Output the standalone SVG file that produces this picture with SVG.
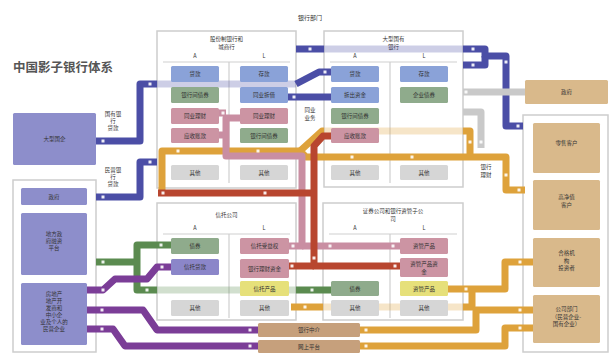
<svg xmlns="http://www.w3.org/2000/svg" width="611" height="353" viewBox="0 0 611 353">
<style>
text{font-family:"Noto Sans CJK SC","Noto Sans",sans-serif;font-size:5.5px;fill:#333;text-anchor:middle}
.ttl{font-size:12.5px;font-weight:bold;fill:#555;text-anchor:start}
.frame{fill:#fff;stroke:#cdcdcd;stroke-width:1.5}
.sep{stroke:#cfcfcf;stroke-width:1.2;fill:none}
.b{rx:1.5}
.bl{fill:#8aa2d8}.gr{fill:#8fab8c}.pk{fill:#cc94a3}.ye{fill:#e6e07a}.pu{fill:#8b86c9}.gy{fill:#d6d6d6}
.lp{fill:#8d8ecb}.tn{fill:#d9b98b}.tb{fill:#c6a07c}
.ln{fill:none;stroke-width:7;stroke-linejoin:round}
.fd{opacity:0.28}
.cb{stroke:#4b4ea6}.cy{stroke:#dea23b}.cp{stroke:#c98ea2}.cr{stroke:#b8462f}.cg{stroke:#5b8b50}.cu{stroke:#7b3d97}.cx{stroke:#c9c9c9}
.d{fill:#fff;opacity:0.9}
</style>

<text class="ttl" x="13" y="72">中国影子银行体系</text>
<text x="310" y="20" style="font-size:6px">银行部门</text>

<!-- container frames -->
<g id="c1">
<rect class="frame" x="157" y="31" width="139" height="157"/>
<text x="226.5" y="41">股份制银行和</text><text x="226.5" y="48.5">城商行</text>
<text x="195" y="58">A</text><text x="264" y="58">L</text>
<path class="sep" d="M163,62H290M229,62V183"/>
</g>
<g id="c2">
<rect class="frame" x="324" y="31" width="139" height="156"/>
<text x="393.5" y="41">大型国有</text><text x="393.5" y="48.5">银行</text>
<text x="355" y="58">A</text><text x="424" y="58">L</text>
<path class="sep" d="M330,62H457M390,62V183"/>
</g>
<g id="c3">
<rect class="frame" x="157" y="203" width="139" height="117"/>
<text x="226.5" y="217">信托公司</text>
<text x="195" y="230">A</text><text x="264" y="230">L</text>
<path class="sep" d="M163,234H290M229,234V318"/>
</g>
<g id="c4">
<rect class="frame" x="323" y="203" width="140" height="117"/>
<text x="393" y="213">证券公司和银行资管子公</text><text x="393" y="220.5">司</text>
<text x="355" y="230">A</text><text x="424" y="230">L</text>
<path class="sep" d="M329,234H457M390,234V318"/>
</g>
<g id="left-group">
<rect class="frame" x="13" y="180" width="83" height="172"/>
</g>
<g id="right-group">
<rect class="frame" x="523" y="115" width="85" height="237"/>
</g>

<!-- connectors -->
<g id="connectors">
<!-- blue -->
<path class="ln cb" d="M96,141H140V84H157"/>
<path class="ln cb fd" d="M157,84H296"/>
<path class="ln cb" d="M296,84L319,72H331"/>
<path class="ln cb" d="M96,197H140V162H157"/>
<path class="ln cb" d="M296,49H324"/>
<path class="ln cb fd" d="M324,49H463"/>
<path class="ln cb" d="M463,49H485V56H506V126H523"/>
<path class="ln cb" d="M463,65H485V56"/>
<path class="ln cb" d="M288,97H331"/>
<!-- gray -->
<path class="ln cx" d="M463,92H525"/>
<path class="ln cx" d="M463,112H481V148"/>
<!-- gold -->
<path class="ln cy" d="M300,151L322,131H324"/>
<path class="ln cy fd" d="M324,131H463"/>
<path class="ln cy" d="M463,131H470V157"/>
<path class="ln cy" d="M162,190V151H300L306,157H506V190H525"/>
<path class="ln cy" d="M448,289H505V262H533"/>
<path class="ln cy" d="M291,307H323"/>
<path class="ln cy fd" d="M323,307H463"/>
<path class="ln cy" d="M463,307H472V289"/>
<path class="ln cy" d="M360,330H476V310H533"/>
<path class="ln cy" d="M360,346H505V328H533"/>
<!-- pink -->
<path class="ln cp" d="M240,118H226V156H302V246H289"/>
<path class="ln cp" d="M219,113H226M219,135H226"/>
<path class="ln cp" d="M302,246H400"/>
<!-- red -->
<path class="ln cr" d="M331,136H323L314,146V266H400"/>
<path class="ln cr" d="M314,193H158"/>
<path class="ln cr" d="M314,266H289"/>
<!-- green -->
<path class="ln cg" d="M96,262H137V245H171M137,262V290H157"/>
<path class="ln cg fd" d="M157,290H296"/>
<path class="ln cg" d="M296,290H331"/>
<!-- purple -->
<path class="ln cu" d="M87,290H103L115,279H147L157,267H171"/>
<path class="ln cu" d="M87,310H143L157,330H258"/>
<path class="ln cu" d="M87,329H113L125,346H258"/>
<!-- direction dots -->
<g class="d">
<rect x="101.5" y="139.5" width="3" height="3"/><rect x="101.5" y="195.5" width="3" height="3"/>
<rect x="148.5" y="82.5" width="3" height="3"/><rect x="148.5" y="160.5" width="3" height="3"/>
<rect x="308.5" y="47.5" width="3" height="3"/><rect x="471.5" y="47.5" width="3" height="3"/>
<rect x="471.5" y="63.5" width="3" height="3"/><rect x="504.5" y="60.5" width="3" height="3"/>
<rect x="516.5" y="124.5" width="3" height="3"/><rect x="292.5" y="95.5" width="3" height="3"/>
<rect x="323.5" y="70.5" width="3" height="3"/><rect x="221.5" y="111.5" width="3" height="3"/>
<rect x="176.5" y="149.5" width="3" height="3"/><rect x="256.5" y="149.5" width="3" height="3"/>
<rect x="350.5" y="155.5" width="3" height="3"/><rect x="410.5" y="155.5" width="3" height="3"/>
<rect x="468.5" y="140.5" width="3" height="3"/><rect x="504.5" y="173.5" width="3" height="3"/>
<rect x="517.5" y="188.5" width="3" height="3"/><rect x="161.5" y="191.5" width="3" height="3"/>
<rect x="263.5" y="191.5" width="3" height="3"/><rect x="312.5" y="256.5" width="3" height="3"/>
<rect x="328.5" y="244.5" width="3" height="3"/><rect x="391.5" y="244.5" width="3" height="3"/>
<rect x="291.5" y="244.5" width="3" height="3"/><rect x="290.5" y="264.5" width="3" height="3"/>
<rect x="393.5" y="264.5" width="3" height="3"/><rect x="101.5" y="260.5" width="3" height="3"/>
<rect x="145.5" y="288.5" width="3" height="3"/><rect x="159.5" y="243.5" width="3" height="3"/>
<rect x="310.5" y="288.5" width="3" height="3"/><rect x="101.5" y="288.5" width="3" height="3"/>
<rect x="100.5" y="308.5" width="3" height="3"/><rect x="100.5" y="327.5" width="3" height="3"/>
<rect x="248.5" y="328.5" width="3" height="3"/><rect x="248.5" y="344.5" width="3" height="3"/>
<rect x="364.5" y="328.5" width="3" height="3"/><rect x="364.5" y="344.5" width="3" height="3"/>
<rect x="464.5" y="287.5" width="3" height="3"/><rect x="518.5" y="260.5" width="3" height="3"/>
<rect x="518.5" y="308.5" width="3" height="3"/><rect x="518.5" y="326.5" width="3" height="3"/>
<rect x="303.5" y="305.5" width="3" height="3"/><rect x="464.5" y="90.5" width="3" height="3"/>
<rect x="479.5" y="140.5" width="3" height="3"/><rect x="160.5" y="265.5" width="3" height="3"/>
</g>
</g>

<!-- labels on connectors -->
<text x="113" y="116">国有银</text><text x="113" y="123">行</text><text x="113" y="130">贷款</text>
<text x="113" y="172">民营银</text><text x="113" y="179">行</text><text x="113" y="186">贷款</text>
<text x="310" y="112">同业</text><text x="310" y="119.5">业务</text>
<text x="486" y="169">银行</text><text x="486" y="176.5">理财</text>

<!-- box 1 items -->
<g id="c1-a1"><rect class="b bl" x="171" y="66" width="48" height="16"/><text x="195" y="76">贷款</text></g>
<g id="c1-a2"><rect class="b gr" x="171" y="87" width="48" height="16"/><text x="195" y="97">银行间债券</text></g>
<g id="c1-a3"><rect class="b pk" x="171" y="108" width="48" height="16"/><text x="195" y="118">同业理财</text></g>
<g id="c1-a4"><rect class="b pk" x="171" y="128" width="48" height="15"/><text x="195" y="137.5">应收账款</text></g>
<g id="c1-a5"><rect class="b gy" x="171" y="165" width="48" height="15"/><text x="195" y="174.5">其他</text></g>
<g id="c1-l1"><rect class="b bl" x="240" y="66" width="48" height="16"/><text x="264" y="76">存款</text></g>
<g id="c1-l2"><rect class="b bl" x="240" y="87" width="48" height="16"/><text x="264" y="97">同业拆借</text></g>
<g id="c1-l3"><rect class="b pk" x="240" y="108" width="48" height="16"/><text x="264" y="118">同业理财</text></g>
<g id="c1-l4"><rect class="b gr" x="240" y="128" width="48" height="15"/><text x="264" y="137.5">银行间债券</text></g>
<g id="c1-l5"><rect class="b gy" x="240" y="165" width="48" height="15"/><text x="264" y="174.5">其他</text></g>

<!-- box 2 items -->
<g id="c2-a1"><rect class="b bl" x="331" y="66" width="48" height="16"/><text x="355" y="76">贷款</text></g>
<g id="c2-a2"><rect class="b bl" x="331" y="87" width="48" height="16"/><text x="355" y="97">拆出资金</text></g>
<g id="c2-a3"><rect class="b gr" x="331" y="108" width="48" height="16"/><text x="355" y="118">银行间债券</text></g>
<g id="c2-a4"><rect class="b pk" x="331" y="128" width="48" height="15"/><text x="355" y="137.5">应收账款</text></g>
<g id="c2-a5"><rect class="b gy" x="331" y="165" width="48" height="15"/><text x="355" y="174.5">其他</text></g>
<g id="c2-l1"><rect class="b bl" x="400" y="66" width="48" height="16"/><text x="424" y="76">存款</text></g>
<g id="c2-l2"><rect class="b gr" x="400" y="87" width="48" height="16"/><text x="424" y="97">企业债券</text></g>
<g id="c2-l5"><rect class="b gy" x="400" y="165" width="48" height="15"/><text x="424" y="174.5">其他</text></g>

<!-- box 3 items -->
<g id="c3-a1"><rect class="b gr" x="171" y="238" width="48" height="16"/><text x="195" y="248">债券</text></g>
<g id="c3-a2"><rect class="b pu" x="171" y="259" width="48" height="16"/><text x="195" y="269">信托贷款</text></g>
<g id="c3-a5"><rect class="b gy" x="171" y="300" width="48" height="16"/><text x="195" y="310">其他</text></g>
<g id="c3-l1"><rect class="b pk" x="240" y="238" width="49" height="16"/><text x="264.5" y="248">信托受益权</text></g>
<g id="c3-l2"><rect class="b pk" x="240" y="259" width="49" height="19"/><text x="264.5" y="270.5">银行理财资金</text></g>
<g id="c3-l3"><rect class="b ye" x="240" y="281" width="49" height="15"/><text x="264.5" y="290.5">信托产品</text></g>
<g id="c3-l5"><rect class="b gy" x="240" y="300" width="49" height="16"/><text x="264.5" y="310">其他</text></g>

<!-- box 4 items -->
<g id="c4-a3"><rect class="b gr" x="331" y="281" width="48" height="15"/><text x="355" y="290.5">债券</text></g>
<g id="c4-a5"><rect class="b gy" x="331" y="300" width="48" height="16"/><text x="355" y="310">其他</text></g>
<g id="c4-l1"><rect class="b pk" x="400" y="238" width="48" height="16"/><text x="424" y="248">资管产品</text></g>
<g id="c4-l2"><rect class="b pk" x="400" y="258" width="48" height="19"/><text x="424" y="266">资管产品资</text><text x="424" y="273.5">金</text></g>
<g id="c4-l3"><rect class="b ye" x="400" y="281" width="48" height="15"/><text x="424" y="290.5">资管产品</text></g>
<g id="c4-l5"><rect class="b gy" x="400" y="300" width="48" height="16"/><text x="424" y="310">其他</text></g>

<!-- left nodes -->
<g id="soe"><rect class="b lp" x="13" y="113" width="83" height="52"/><text x="54.5" y="141">大型国企</text></g>
<g id="gov-left"><rect class="b lp" x="21" y="188" width="66" height="17"/><text x="54" y="198.5">政府</text></g>
<g id="lgfv"><rect class="b lp" x="21" y="213" width="66" height="62"/><text x="54" y="236">地方政</text><text x="54" y="243">府融资</text><text x="54" y="250">平台</text></g>
<g id="private"><rect class="b lp" x="21" y="283" width="66" height="62"/>
<text x="54" y="296">房地产</text><text x="54" y="303">地产开</text><text x="54" y="310">发商和</text><text x="54" y="317">中小企</text><text x="54" y="324">业及个人的</text><text x="54" y="331">民营企业</text></g>

<!-- right nodes -->
<g id="gov-right"><rect class="b tn" x="525" y="80" width="83" height="24"/><text x="566.5" y="94">政府</text></g>
<g id="retail"><rect class="b tn" x="533" y="123" width="67" height="50"/><text x="566.5" y="145">零售客户</text></g>
<g id="hnw"><rect class="b tn" x="533" y="180" width="67" height="50"/><text x="566.5" y="199">高净值</text><text x="566.5" y="206.5">客户</text></g>
<g id="qii"><rect class="b tn" x="533" y="238" width="67" height="49"/><text x="566.5" y="255">合格机</text><text x="566.5" y="262.5">构</text><text x="566.5" y="270">投资者</text></g>
<g id="corp"><rect class="b tn" x="533" y="295" width="67" height="48"/><text x="566.5" y="311">公司部门</text><text x="566.5" y="318.5">（民营企业-</text><text x="566.5" y="326">国有企业）</text></g>

<!-- bottom nodes -->
<g id="bank-mid"><rect class="b tb" x="258" y="323" width="102" height="14"/><text x="309" y="332">银行中介</text></g>
<g id="online"><rect class="b tb" x="258" y="340" width="102" height="13"/><text x="309" y="348.5">网上平台</text></g>
</svg>
